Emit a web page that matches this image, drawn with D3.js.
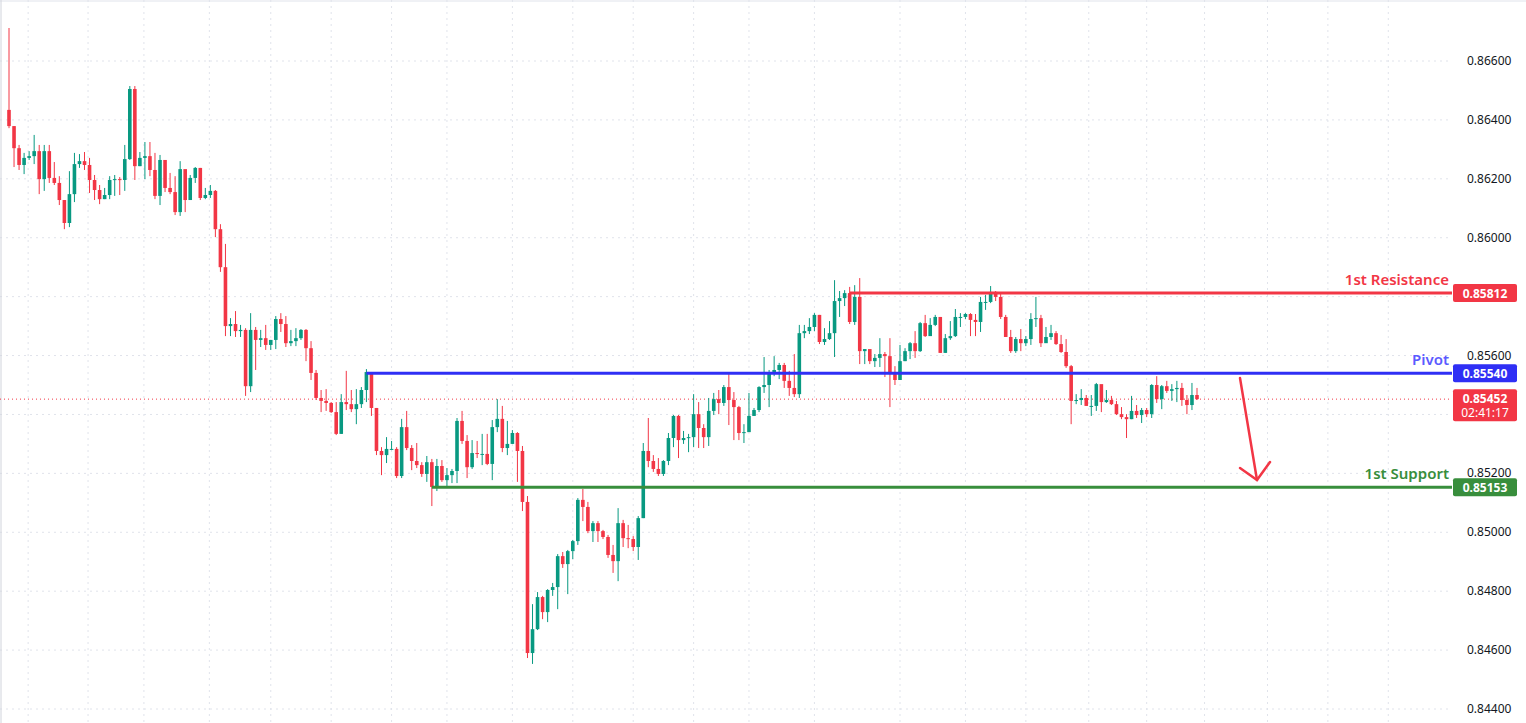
<!DOCTYPE html>
<html>
<head>
<meta charset="utf-8">
<script src="https://cdn.jsdelivr.net/npm/d3@7"></script>
<style>
  body { margin: 0; background: #fff; font-family: "Noto Sans", Roboto, sans-serif; }
</style>
</head>
<body>
<svg id="chart" width="1526" height="723"></svg>
<script>
// prices in pipettes (1e-5)
const firstOpen = 86434;
const closes = [86379,86304,86247,86271,86277,86294,86199,86294,86203,86186,86128,86050,86148,86250,86260,86247,86196,86162,86131,86145,
  86196,86199,86196,86267,86505,86243,86271,86277,86230,86142,86264,86169,86155,86087,86233,86128,86203,86237,86135,86145,
  86159,86029,85900,85700,85707,85683,85687,85496,85687,85653,85659,85636,85653,85724,85707,85642,85649,85659,85687,85625,
  85541,85456,85446,85439,85408,85334,85442,85435,85418,85435,85483,85544,85422,85276,85262,85283,85283,85191,85357,85286,
  85242,85228,85198,85238,85154,85225,85177,85194,85208,85378,85310,85221,85269,85266,85266,85232,85357,85385,85286,85300,
  85337,85276,85103,84590,84671,84780,84729,84804,84814,84919,84892,84936,84970,85110,85086,85004,85031,85004,84984,84923,
  84902,85031,84980,84977,84950,85048,85276,85242,85215,85198,85242,85320,85395,85313,85320,85323,85401,85354,85323,85412,
  85452,85439,85493,85449,85425,85337,85340,85395,85415,85493,85500,85541,85551,85568,85514,85490,85469,85676,85683,85697,
  85738,85646,85656,85676,85785,85795,85812,85714,85799,85615,85622,85581,85592,85605,85598,85537,85517,85581,85615,85642,
  85615,85710,85666,85704,85731,85609,85659,85666,85731,85731,85741,85721,85714,85782,85782,85816,85799,85731,85663,85615,
  85656,85642,85656,85724,85727,85642,85663,85676,85639,85612,85564,85446,85449,85456,85429,85429,85503,85442,85449,85435,
  85401,85391,85384,85412,85398,85415,85401,85500,85452,85496,85480,85486,85490,85449,85432,85466,85452];
const highs = [86712,86379,86315,86288,86294,86349,86315,86315,86315,86257,86209,86128,86226,86288,86284,86291,86271,86213,86179,86169,
  86209,86213,86206,86315,86515,86515,86291,86325,86325,86288,86281,86237,86220,86209,86260,86213,86213,86240,86237,86169,
  86179,86162,86046,85979,85727,85751,85704,85693,85744,85697,85687,85704,85653,85734,85744,85734,85687,85693,85690,85690,
  85649,85551,85483,85486,85442,85442,85469,85548,85483,85486,85493,85554,85544,85422,85289,85323,85310,85289,85385,85412,
  85296,85303,85238,85259,85249,85249,85245,85218,85215,85388,85412,85330,85313,85310,85334,85334,85381,85452,85429,85378,
  85347,85340,85293,85123,84756,84797,84784,84807,84828,84926,84933,84940,84974,85116,85147,85103,85038,85038,85008,84991,
  84957,85082,85042,85025,84987,85055,85303,85388,85262,85252,85245,85337,85398,85398,85344,85334,85469,85442,85367,85456,
  85473,85483,85500,85541,85476,85429,85367,85473,85422,85496,85595,85551,85598,85575,85575,85548,85605,85704,85704,85727,
  85744,85738,85693,85717,85856,85819,85822,85833,85839,85863,85622,85619,85605,85659,85612,85659,85564,85636,85625,85646,
  85683,85714,85738,85727,85738,85731,85673,85717,85758,85744,85744,85744,85741,85799,85806,85836,85819,85812,85738,85687,
  85663,85690,85666,85744,85799,85738,85697,85704,85683,85670,85656,85568,85469,85486,85466,85466,85507,85500,85483,85463,
  85446,85425,85401,85463,85432,85422,85422,85503,85530,85500,85514,85503,85514,85507,85466,85507,85490];
const lows = [86372,86240,86230,86216,86264,86250,86148,86159,86186,86179,86111,86029,86036,86121,86237,86230,86152,86128,86114,86131,
  86131,86142,86145,86159,86264,86196,86243,86199,86209,86131,86111,86155,86148,86077,86074,86087,86128,86186,86128,86131,
  86135,86002,85884,85666,85666,85663,85663,85463,85476,85551,85629,85619,85619,85622,85680,85629,85632,85632,85653,85581,
  85517,85449,85408,85412,85405,85330,85334,85415,85408,85367,85422,85442,85395,85262,85194,85235,85279,85184,85184,85279,
  85211,85218,85188,85171,85089,85140,85171,85150,85167,85167,85300,85184,85215,85252,85228,85228,85177,85340,85272,85262,
  85300,85171,85072,84573,84553,84668,84705,84695,84784,84739,84879,84790,84909,84957,85038,84997,84967,84967,84977,84913,
  84862,84834,84950,84946,84936,84906,85048,85221,85205,85191,85191,85228,85289,85252,85300,85272,85289,85286,85286,85293,
  85398,85401,85429,85364,85313,85313,85303,85344,85395,85408,85473,85425,85530,85520,85490,85463,85459,85456,85659,85673,
  85683,85639,85636,85653,85595,85731,85768,85707,85704,85571,85571,85571,85561,85561,85527,85425,85500,85537,85581,85588,
  85592,85612,85663,85676,85700,85609,85609,85653,85663,85697,85724,85666,85666,85680,85755,85778,85785,85724,85663,85609,
  85609,85615,85632,85636,85697,85629,85653,85653,85636,85609,85558,85367,85435,85432,85429,85395,85412,85408,85439,85432,
  85398,85384,85320,85384,85388,85371,85391,85388,85439,85418,85473,85446,85442,85429,85401,85415,85449];

const yTicks = [86600,86400,86200,86000,85600,85200,85000,84800,84600,84400];
const gridLevels = [86600,86400,86200,86000,85800,85600,85400,85200,85000,84800,84600,84400];
const gridCandles = [3.8,15.7,26.8,39.8,52,64,76,87,100,112,124,136,147,160,177,190,202,214.5,226,237.5,250,262,274];

const levels = [
  { name: '1st Resistance', value: 85812, from: 167, color: '#f23645', text: '#f23645' },
  { name: 'Pivot', value: 85540, from: 71, color: '#2f2ff5', text: '#5b5bff' },
  { name: '1st Support', value: 85153, from: 84, color: '#388e3c', text: '#388e3c' }
];
const lastPrice = 85452;
const countdown = '02:41:17';

const svg = d3.select('#chart');
const plotRight = 1452;
const x = d3.scaleLinear().domain([0, 236]).range([9, 1197]);
const y = d3.scaleLinear().domain([84400, 86600]).range([709, 61]);
const fmt = v => (v / 1e5).toFixed(5);

// grid
svg.append('g').selectAll('line').data(gridLevels).join('line')
  .attr('x1', 0).attr('x2', plotRight)
  .attr('y1', d => y(d)).attr('y2', d => y(d))
  .attr('stroke', '#e0e3eb').attr('stroke-dasharray', '2,4');
svg.append('g').selectAll('line').data(gridCandles).join('line')
  .attr('x1', d => x(d)).attr('x2', d => x(d))
  .attr('y1', 0).attr('y2', 723)
  .attr('stroke', '#e0e3eb').attr('stroke-dasharray', '2,4');

// borders
svg.append('line').attr('x1', 0).attr('x2', 1526).attr('y1', 1).attr('y2', 1).attr('stroke', '#e0e3eb');
svg.append('line').attr('x1', 1).attr('x2', 1).attr('y1', 0).attr('y2', 723).attr('stroke', '#d1d4dc');

// y axis labels
svg.append('g').selectAll('text').data(yTicks).join('text')
  .attr('x', 1467).attr('y', d => y(d) + 4)
  .attr('font-size', 12).attr('fill', '#131722')
  .text(fmt);

// current price dotted line
svg.append('line').attr('x1', 0).attr('x2', plotRight)
  .attr('y1', y(lastPrice)).attr('y2', y(lastPrice))
  .attr('stroke', '#f23645').attr('stroke-dasharray', '1,3');

// candles
const candles = closes.map((c, i) => ({
  i, o: i === 0 ? firstOpen : closes[i - 1], c, h: highs[i], l: lows[i]
}));
const g = svg.append('g');
g.selectAll('line').data(candles).join('line')
  .attr('x1', d => x(d.i)).attr('x2', d => x(d.i))
  .attr('y1', d => y(d.h)).attr('y2', d => y(d.l))
  .attr('stroke', d => d.c >= d.o ? '#089981' : '#f23645').attr('stroke-width', 1);
g.selectAll('rect').data(candles).join('rect')
  .attr('x', d => x(d.i) - 1.8).attr('width', 3.6)
  .attr('y', d => y(Math.max(d.o, d.c)))
  .attr('height', d => Math.max(1, Math.abs(y(d.o) - y(d.c))))
  .attr('fill', d => d.c >= d.o ? '#089981' : '#f23645');

// levels
levels.forEach(lv => {
  const ly = y(lv.value);
  svg.append('line').attr('x1', x(lv.from)).attr('x2', plotRight)
    .attr('y1', ly).attr('y2', ly).attr('stroke', lv.color).attr('stroke-width', 3);
  svg.append('text').attr('x', 1449).attr('y', ly - 8)
    .attr('text-anchor', 'end').attr('font-size', 15).attr('font-weight', 600)
    .attr('fill', lv.text).text(lv.name);
  svg.append('rect').attr('x', 1453).attr('y', ly - 9).attr('width', 64).attr('height', 18)
    .attr('rx', 2).attr('fill', lv.color);
  svg.append('text').attr('x', 1485).attr('y', ly + 4.5).attr('text-anchor', 'middle')
    .attr('font-size', 12).attr('font-weight', 700).attr('fill', '#fff').text(fmt(lv.value));
});

// last price tag
const py = y(lastPrice);
svg.append('rect').attr('x', 1453).attr('y', py - 10).attr('width', 64).attr('height', 32)
  .attr('rx', 2).attr('fill', '#f23645');
svg.append('text').attr('x', 1485).attr('y', py + 4).attr('text-anchor', 'middle')
  .attr('font-size', 12).attr('font-weight', 700).attr('fill', '#fff').text(fmt(lastPrice));
svg.append('text').attr('x', 1485).attr('y', py + 18).attr('text-anchor', 'middle')
  .attr('font-size', 12).attr('fill', '#fff').text(countdown);

// arrow
const arrow = svg.append('g').attr('stroke', '#f23645').attr('stroke-width', 2.5)
  .attr('fill', 'none').attr('stroke-linecap', 'round');
arrow.append('line').attr('x1', 1240).attr('y1', 378).attr('x2', 1257).attr('y2', 480);
arrow.append('polyline').attr('points', '1240,468 1257,480 1270,462');
</script>
</body>
</html>
